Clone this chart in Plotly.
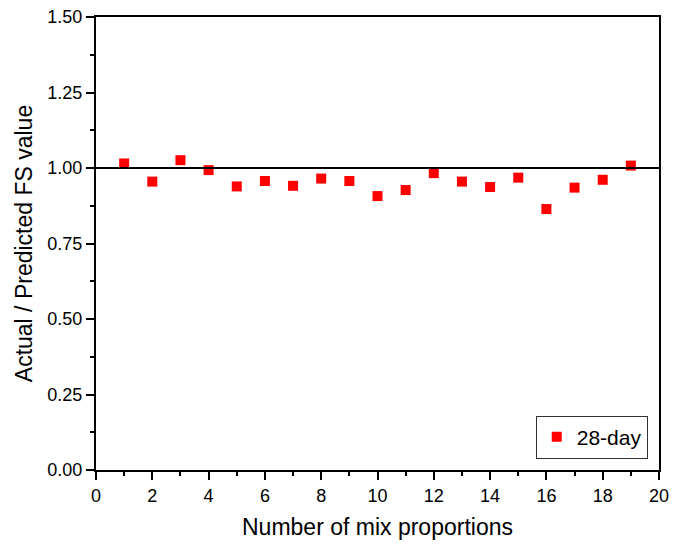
import plotly.graph_objects as go

mix_no = list(range(1, 20))
ratio_28day = [1.015, 0.955, 1.026, 0.993, 0.939, 0.957, 0.941, 0.965, 0.957, 0.907,
               0.927, 0.983, 0.955, 0.937, 0.968, 0.864, 0.935, 0.961, 1.008]
x_ticks = list(range(0, 21, 2))
y_ticks = [0.00, 0.25, 0.50, 0.75, 1.00, 1.25, 1.50]
ref_value = 1.0

fig = go.Figure()
fig.add_trace(go.Scatter(
    x=mix_no, y=ratio_28day, mode="markers", name="28-day",
    marker=dict(symbol="square", size=10, color="#ff0000", line=dict(width=0)),
))
fig.add_shape(type="line", xref="paper", x0=0, x1=1, yref="y", y0=ref_value, y1=ref_value,
              line=dict(color="black", width=2))

font = "Liberation Sans, Arial, sans-serif"
fig.update_layout(
    width=688, height=544,
    margin=dict(l=96, r=29, t=17, b=74),
    plot_bgcolor="white", paper_bgcolor="white",
    font=dict(family=font, color="black", size=18),
    showlegend=True,
    legend=dict(x=0.98, y=0.025, xanchor="right", yanchor="bottom",
                bordercolor="#333333", borderwidth=1, bgcolor="white",
                font=dict(size=21, family=font), itemwidth=30,
                tracegroupgap=0),
)
fig.update_xaxes(
    range=[0, 20], tickvals=x_ticks, ticktext=[str(v) for v in x_ticks],
    showline=True, linecolor="black", linewidth=2, mirror=True,
    ticks="outside", ticklen=8, tickwidth=2, tickcolor="black",
    minor=dict(dtick=1, ticks="outside", ticklen=4, tickwidth=2, tickcolor="black"),
    showgrid=False, zeroline=False, automargin=False,
    title=dict(text="Number of mix proportions", font=dict(size=23), standoff=14),
    tickfont=dict(size=18),
)
fig.update_yaxes(
    range=[0, 1.5], tickvals=y_ticks, ticktext=[f"{v:.2f}" for v in y_ticks],
    showline=True, linecolor="black", linewidth=2, mirror=True,
    ticks="outside", ticklen=8, tickwidth=2, tickcolor="black",
    minor=dict(dtick=0.125, ticks="outside", ticklen=4, tickwidth=2, tickcolor="black"),
    showgrid=False, zeroline=False, automargin=False,
    title=dict(text="Actual / Predicted FS value", font=dict(size=23), standoff=8),
    tickfont=dict(size=18),
)
fig.write_html("out.html")
